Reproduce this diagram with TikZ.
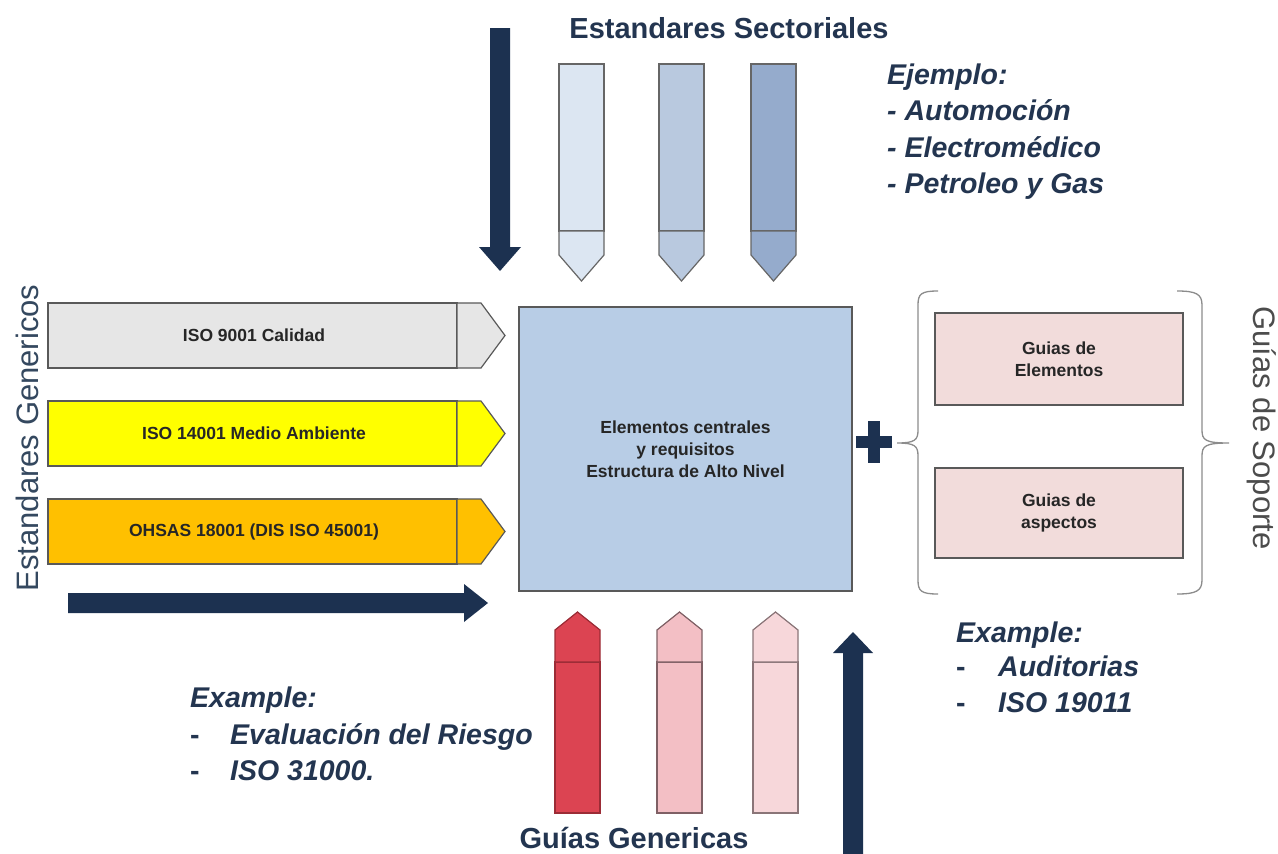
\documentclass[tikz,border=0pt]{standalone}
\usepackage{fontspec}
\setmainfont{Liberation Sans}
\usepackage{tikz}
\definecolor{navy}{HTML}{1C3150}
\definecolor{txtnavy}{HTML}{233550}
\definecolor{sidegray}{HTML}{34485F}
\definecolor{sect1}{HTML}{DCE6F2}
\definecolor{sect2}{HTML}{B9C9DF}
\definecolor{sect3}{HTML}{95ABCC}
\definecolor{gen1}{HTML}{DC4452}
\definecolor{gen2}{HTML}{F3BFC5}
\definecolor{gen3}{HTML}{F7D7DA}
\definecolor{gen1line}{HTML}{9B2C36}
\definecolor{gen2line}{HTML}{7F6065}
\definecolor{gen3line}{HTML}{8A7578}
\definecolor{corebl}{HTML}{B8CDE6}
\definecolor{supp}{HTML}{F2DCDB}
\definecolor{isogray}{HTML}{E6E6E6}
\definecolor{isoyel}{HTML}{FFFF00}
\definecolor{isoorg}{HTML}{FFC000}

\begin{document}
\begin{tikzpicture}[x=1pt,y=-1pt,
  title/.style={font=\fontsize{29}{34}\selectfont\bfseries, text=txtnavy, inner sep=0pt, anchor=base},
  sidetitle/.style={font=\fontsize{31}{36}\selectfont, inner sep=0pt},
  exline/.style={font=\fontsize{28.5}{32}\selectfont\bfseries\itshape, text=txtnavy, anchor=base west, inner sep=0pt},
  exdash/.style={exline, font=\fontsize{28.5}{32}\selectfont\bfseries},
  boxtext/.style={font=\fontsize{17.5}{22}\selectfont\bfseries, text=black!85, align=center},
  outline/.style={draw=black!65, line width=1.2pt}]
  \useasboundingbox[fill=white] (0,0) rectangle (1278,854);
  % flechas grandes
  \fill[navy] (490,28) -- (510,28) -- (510,247) -- (521,247) -- (500,271) -- (479,247) -- (490,247) -- cycle;
  \fill[navy] (68,593) -- (464,593) -- (464,584) -- (488,603) -- (464,622) -- (464,613) -- (68,613) -- cycle;
  \fill[navy] (843,854) -- (843,653) -- (833,653) -- (853,632) -- (873,653) -- (863,653) -- (863,854) -- cycle;
  % estandares sectoriales
  \foreach \x/\c in {559/sect1, 659/sect2, 751/sect3}{
    \draw[draw=black!60, line width=1.2pt, fill=\c] (\x,64) rectangle (\x+45,231);
    \draw[draw=black!60, line width=1.2pt, fill=\c] (\x,231) -- (\x+45,231) -- (\x+45,255) -- (\x+22.5,281) -- (\x,255) -- cycle;
  }
  % guias genericas
  \foreach \x/\c in {555/gen1, 657/gen2, 753/gen3}{
    \draw[draw=\c line, line width=1.2pt, fill=\c] (\x,662) rectangle (\x+45,813);
    \draw[draw=\c line, line width=1.2pt, fill=\c] (\x,662) -- (\x,630) -- (\x+22.5,612) -- (\x+45,630) -- (\x+45,662) -- cycle;
  }
  % estandares genericos
  \foreach \y/\c/\t/\n in {303/isogray/ISO 9001 Calidad/iso9, 401/isoyel/ISO 14001 Medio Ambiente/iso14, 499/isoorg/OHSAS 18001 (DIS ISO 45001)/ohsas}{
    \draw[outline, fill=\c] (48,\y) rectangle (457,\y+65);
    \draw[outline, fill=\c] (457,\y) -- (481,\y) -- (505,\y+32.5) -- (481,\y+65) -- (457,\y+65) -- cycle;
    \node[boxtext] (\n) at (254,\y+32.5) {\t};
  }
  % nucleo
  \node[outline, fill=corebl, minimum width=333, minimum height=284, boxtext] (core) at (685.5,449)
    {Elementos centrales\\y requisitos\\Estructura de Alto Nivel};
  \fill[navy] (868,421) rectangle (880,463);
  \fill[navy] (856,436) rectangle (892,448);
  % guias de soporte
  \node[outline, fill=supp, minimum width=248, minimum height=92, boxtext] (elem) at (1059,359) {Guias de\\Elementos};
  \node[outline, fill=supp, minimum width=248, minimum height=90, boxtext] (aspec) at (1059,513) {Guias de\\aspectos};
  \draw[black!45, line width=1.3pt] (938,291) .. controls (921,291) and (918,294) .. (918,305) -- (918,430)
    .. controls (918,440) and (915,443) .. (897,443) .. controls (915,443) and (918,446) .. (918,456)
    -- (918,580) .. controls (918,591) and (921,594) .. (938,594);
  \draw[black!45, line width=1.3pt] (1177,291) .. controls (1196,291) and (1202,294) .. (1202,305) -- (1202,430)
    .. controls (1202,440) and (1205,443) .. (1229,443) .. controls (1205,443) and (1202,446) .. (1202,456)
    -- (1202,580) .. controls (1202,591) and (1196,594) .. (1177,594);
  % titulos
  \node[title] (sect) at (729,38) {Estandares Sectoriales};
  \node[title] (genguia) at (634,848) {Guías Genericas};
  \node[sidetitle, text=sidegray, rotate=90] (genest) at (27,438) {Estandares Genericos};
  \node[sidetitle, text=black!70, rotate=-90] (soporte) at (1262,428) {Guías de Soporte};
  % ejemplos
  \node[exline] (ej0) at (887,84) {Ejemplo:};
  \node[exline] (ej1) at (887,120.5) {- Automoción};
  \node[exline] (ej2) at (887,157) {- Electromédico};
  \node[exline] (ej3) at (887,193.5) {- Petroleo y Gas};
  \node[exline] (exa0) at (190,707) {Example:};
  \node[exdash] (exa1d) at (190,744) {-};
  \node[exline] (exa1) at (230,744) {Evaluación del Riesgo};
  \node[exdash] (exa2d) at (190,780) {-};
  \node[exline] (exa2) at (230,780) {ISO 31000.};
  \node[exline] (exb0) at (956,642) {Example:};
  \node[exdash] (exb1d) at (956,676) {-};
  \node[exline] (exb1) at (998,676) {Auditorias};
  \node[exdash] (exb2d) at (956,712) {-};
  \node[exline] (exb2) at (998,712) {ISO 19011};
\end{tikzpicture}
\end{document}
